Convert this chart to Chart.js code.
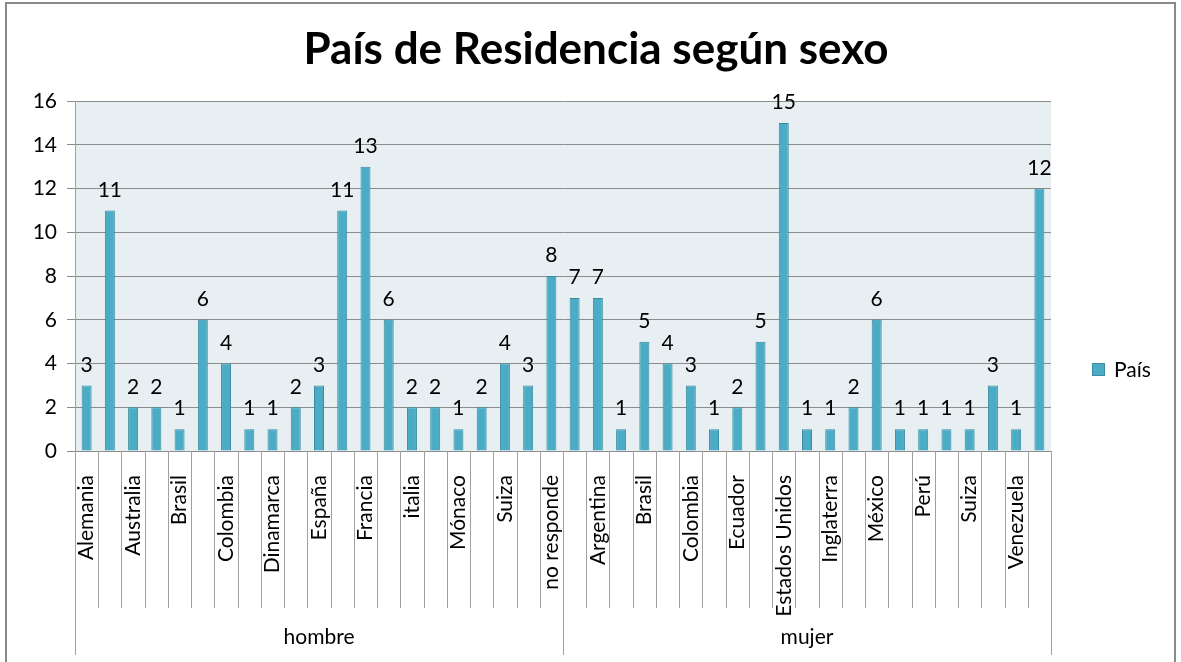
<!DOCTYPE html>
<html>
<head>
<meta charset="utf-8">
<script src="https://cdn.jsdelivr.net/npm/chart.js@4"></script>
<style>
  html, body { margin: 0; padding: 0; background: #fff; }
  #wrap { width: 1181px; height: 662px; }
</style>
</head>
<body>
<div id="wrap"><canvas id="barChart" width="1181" height="662"></canvas></div>
<script>
// categories (only every second one is labelled in the picture)
var hombreCountries = ["Alemania", "Argentina", "Australia", "Bélgica", "Brasil", "Chile", "Colombia", "Costa Rica",
  "Dinamarca", "Ecuador", "España", "Estados Unidos", "Francia", "Inglaterra", "italia", "México",
  "Mónaco", "Perú", "Suiza", "Venezuela", "no responde"];
var mujerCountries = ["Alemania", "Argentina", "Australia", "Brasil", "Chile", "Colombia", "Costa Rica", "Ecuador",
  "España", "Estados Unidos", "Francia", "Inglaterra", "italia", "México", "Panamá", "Perú",
  "Portugal", "Suiza", "Uruguay", "Venezuela", "no responde"];
var groups = ["hombre", "mujer"];

var hombreValues = [3, 11, 2, 2, 1, 6, 4, 1, 1, 2, 3, 11, 13, 6, 2, 2, 1, 2, 4, 3, 8];
var mujerValues = [7, 7, 1, 5, 4, 3, 1, 2, 5, 15, 1, 1, 2, 6, 1, 1, 1, 1, 3, 1, 12];

var seriesName = "País";
var chartTitle = "País de Residencia según sexo";
var yTicks = [0, 2, 4, 6, 8, 10, 12, 14, 16];

var xValues = hombreCountries.concat(mujerCountries);
var yValues = hombreValues.concat(mujerValues);
var groupSizes = [hombreCountries.length, mujerCountries.length];

var barColor = "#4bacc6";
var FONT = "Lato, 'Open Sans', sans-serif";

const chartExtras = {
  id: "chartExtras",
  beforeDraw(chart) {
    var ctx = chart.ctx, a = chart.chartArea;
    ctx.save();
    // outer frame
    ctx.strokeStyle = "#8a8a8a";
    ctx.lineWidth = 2;
    ctx.strokeRect(6, 3, 1169, 700);
    // plot background
    ctx.fillStyle = "#e8eff3";
    ctx.fillRect(a.left, a.top, a.right - a.left, a.bottom - a.top);
    // title, centred on the whole picture
    ctx.fillStyle = "#000";
    ctx.font = "bold 44px " + FONT;
    ctx.textAlign = "center";
    ctx.textBaseline = "middle";
    ctx.fillText(chartTitle, 596, 50);
    ctx.restore();
  },
  afterDraw(chart) {
    var ctx = chart.ctx, a = chart.chartArea;
    var x = chart.scales.x;
    var n = xValues.length;
    var step = (a.right - a.left) / n;
    ctx.save();
    ctx.strokeStyle = "#a0a0a0";
    ctx.lineWidth = 1;
    // category separators under the axis
    var idx = 0, bounds = [0];
    groupSizes.forEach(function (s) { idx += s; bounds.push(idx); });
    for (var i = 0; i <= n; i++) {
      var px = Math.round(x.getPixelForValue(i) - step / 2) + 0.5;
      if (i === n) px = Math.round(x.getPixelForValue(n - 1) + step / 2) + 0.5;
      var isGroup = bounds.indexOf(i) >= 0;
      ctx.beginPath();
      ctx.moveTo(px, a.bottom);
      ctx.lineTo(px, isGroup ? 655 : 608);
      ctx.stroke();
    }
    // group labels
    ctx.fillStyle = "#000";
    ctx.font = "21px " + FONT;
    ctx.textAlign = "center";
    ctx.textBaseline = "middle";
    for (var g = 0; g < groups.length; g++) {
      var l = x.getPixelForValue(bounds[g]) - step / 2;
      var r = x.getPixelForValue(bounds[g + 1] - 1) + step / 2;
      ctx.fillText(groups[g], (l + r) / 2, 637);
    }
    // legend
    ctx.fillStyle = barColor;
    ctx.fillRect(1092, 363, 13, 13);
    ctx.strokeStyle = "#3a8ba1";
    ctx.strokeRect(1092.5, 363.5, 12, 12);
    ctx.fillStyle = "#000";
    ctx.textAlign = "left";
    ctx.fillText(seriesName, 1114, 370);
    ctx.restore();
  },
  afterDatasetsDraw(chart) {
    var ctx = chart.ctx;
    var meta = chart.getDatasetMeta(0);
    ctx.save();
    ctx.fillStyle = "#000";
    ctx.font = "21px " + FONT;
    ctx.textAlign = "center";
    ctx.textBaseline = "bottom";
    meta.data.forEach(function (bar, i) {
      ctx.fillText(String(yValues[i]), bar.x, bar.y - 10);
    });
    ctx.restore();
  }
};

var ctx = document.getElementById("barChart").getContext("2d");

new Chart(ctx, {
  type: "bar",
  data: {
    labels: xValues,
    datasets: [{
      label: seriesName,
      backgroundColor: barColor,
      borderColor: "#3a8ba1",
      borderWidth: 1,
      barPercentage: 0.43,
      categoryPercentage: 1,
      data: yValues
    }]
  },
  options: {
    responsive: false,
    animation: false,
    layout: { padding: { left: 10, right: 130, top: 101, bottom: 0 } },
    plugins: {
      legend: { display: false },
      tooltip: { enabled: false },
      title: { display: false }
    },
    scales: {
      x: {
        grid: { display: false, drawTicks: false },
        border: { color: "#8c8c8c" },
        afterFit: function (s) { s.height = 662 - 451; },
        ticks: {
          autoSkip: false,
          minRotation: 90,
          maxRotation: 90,
          padding: 24,
          color: "#000",
          font: { family: FONT, size: 21 },
          callback: function (v, i) { return i % 2 === 0 ? xValues[i] : ""; }
        }
      },
      y: {
        min: 0,
        max: 16,
        afterFit: function (s) { s.width = 65; },
        afterBuildTicks: function (s) { s.ticks = yTicks.map(function (v) { return { value: v }; }); },
        border: { color: "#a0a0a0" },
        grid: { color: "#8c8c8c", tickLength: 8 },
        ticks: {
          padding: 10,
          color: "#000",
          font: { family: FONT, size: 21 }
        }
      }
    }
  },
  plugins: [chartExtras]
});
</script>
</body>
</html>
